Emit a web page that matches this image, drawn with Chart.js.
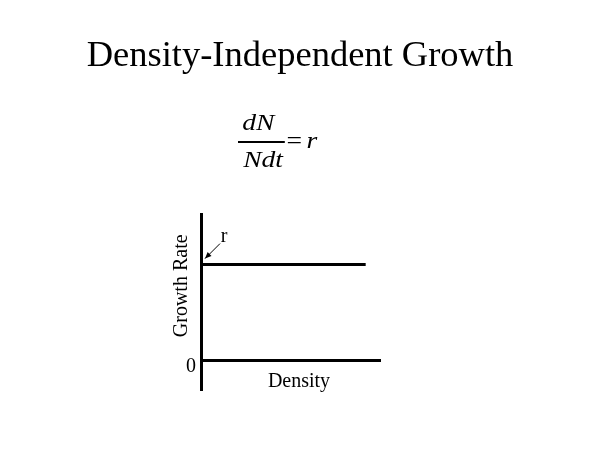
<!DOCTYPE html>
<html>
<head>
<meta charset="utf-8">
<script src="https://cdn.jsdelivr.net/npm/chart.js@4.4.1/dist/chart.umd.min.js"></script>
<style>
  html, body { margin: 0; padding: 0; background: #fff; }
  #wrap { position: relative; width: 600px; height: 450px; }
  #eq {
    position: absolute; left: 238px; top: 0; width: 90px; height: 180px;
    transform: scaleX(1.2); transform-origin: 0 0;
    font-family: 'Liberation Serif', 'Times New Roman', serif;
    font-size: 23px; line-height: 23px; color: #000;
  }
  #eq span { position: absolute; white-space: nowrap; }
  #eq i { font-style: italic; }
  #eq .bar { position: absolute; left: 0; top: 141.3px; width: 38.5px; height: 1.3px; background: #000; }
</style>
</head>
<body>
<div id="wrap">
  <canvas id="growthChart" width="600" height="450"></canvas>
  <div id="eq">
    <span style="left:3.5px; top:111.4px"><i>dN</i></span>
    <div class="bar"></div>
    <span style="left:4.3px; top:147.7px"><i>Ndt</i></span>
    <span style="left:40.5px; top:129.4px">=</span>
    <span style="left:57px; top:129.4px"><i>r</i></span>
  </div>
</div>
<script>
// Density-independent growth: per-capita rate stays at r whatever the density
const density = [0, 9.2];
const growthRate = [1, 1];
const rValue = 1;
const densityMax = 10;
const rateMin = -0.31;
const rateMax = 1.52;
const rateTicks = [0];

const serif = "'Liberation Serif', 'Times New Roman', serif";

Chart.defaults.color = '#000';
Chart.defaults.font.family = serif;

// axis names and the little "r" pointer, placed off the scales
const labelPlugin = {
  id: 'growthLabels',
  afterDraw(chart) {
    const {ctx, chartArea, scales: {x, y}} = chart;
    const zeroY = y.getPixelForValue(0);
    const rY = y.getPixelForValue(rValue);
    const x0 = x.getPixelForValue(0);

    ctx.save();
    ctx.fillStyle = '#000';
    ctx.strokeStyle = '#000';
    ctx.font = '20px ' + serif;
    ctx.textAlign = 'center';
    ctx.textBaseline = 'alphabetic';

    ctx.fillText('Density', x0 + 98, zeroY + 26.5);

    ctx.save();
    ctx.translate(x0 - 14.5, chartArea.top + 71);
    ctx.rotate(-Math.PI / 2);
    ctx.fillText('Growth Rate', 0, 0);
    ctx.restore();

    ctx.fillText('r', x0 + 23, rY - 23);

    // arrow pointing at the intercept
    const sx = x0 + 19, sy = rY - 21, ex = x0 + 4, ey = rY - 6;
    ctx.lineWidth = 1;
    ctx.beginPath();
    ctx.moveTo(sx, sy);
    ctx.lineTo(ex, ey);
    ctx.stroke();
    const ang = Math.atan2(ey - sy, ex - sx);
    ctx.beginPath();
    ctx.moveTo(ex, ey);
    ctx.lineTo(ex - 7 * Math.cos(ang - 0.4), ey - 7 * Math.sin(ang - 0.4));
    ctx.lineTo(ex - 7 * Math.cos(ang + 0.4), ey - 7 * Math.sin(ang + 0.4));
    ctx.closePath();
    ctx.fill();
    ctx.restore();
  }
};

new Chart(document.getElementById('growthChart'), {
  type: 'line',
  data: {
    datasets: [{
      data: density.map((d, i) => ({x: d, y: growthRate[i]})),
      borderColor: '#000',
      borderWidth: 3,
      pointRadius: 0,
      fill: false
    }]
  },
  options: {
    responsive: false,
    animation: false,
    events: [],
    layout: {padding: {left: 0, right: 0, bottom: 60}},
    plugins: {
      legend: {display: false},
      tooltip: {enabled: false},
      title: {
        display: true,
        text: 'Density-Independent Growth',
        color: '#000',
        font: {family: serif, size: 36.5, weight: 'normal'},
        padding: {top: 35, bottom: 136}
      }
    },
    scales: {
      x: {
        type: 'linear',
        min: 0,
        max: densityMax,
        position: {y: 0},
        grid: {display: false, drawTicks: false},
        ticks: {display: false},
        border: {display: true, color: '#000', width: 3}
      },
      y: {
        type: 'linear',
        min: rateMin,
        max: rateMax,
        grid: {display: false, drawTicks: false},
        border: {display: true, color: '#000', width: 3},
        afterBuildTicks: s => { s.ticks = rateTicks.map(v => ({value: v})); },
        afterFit: s => { s.width = 201; },
        ticks: {
          font: {family: serif, size: 20},
          color: '#000',
          padding: 5,
          labelOffset: 6,
          callback: v => String(v)
        }
      },
      // empty right-hand axis, only keeps the plot narrow so the title stays centred
      spacer: {
        type: 'linear',
        position: 'right',
        grid: {display: false, drawTicks: false},
        border: {display: false},
        ticks: {display: false},
        afterFit: s => { s.width = 220; }
      }
    }
  },
  plugins: [labelPlugin]
});
</script>
</body>
</html>
